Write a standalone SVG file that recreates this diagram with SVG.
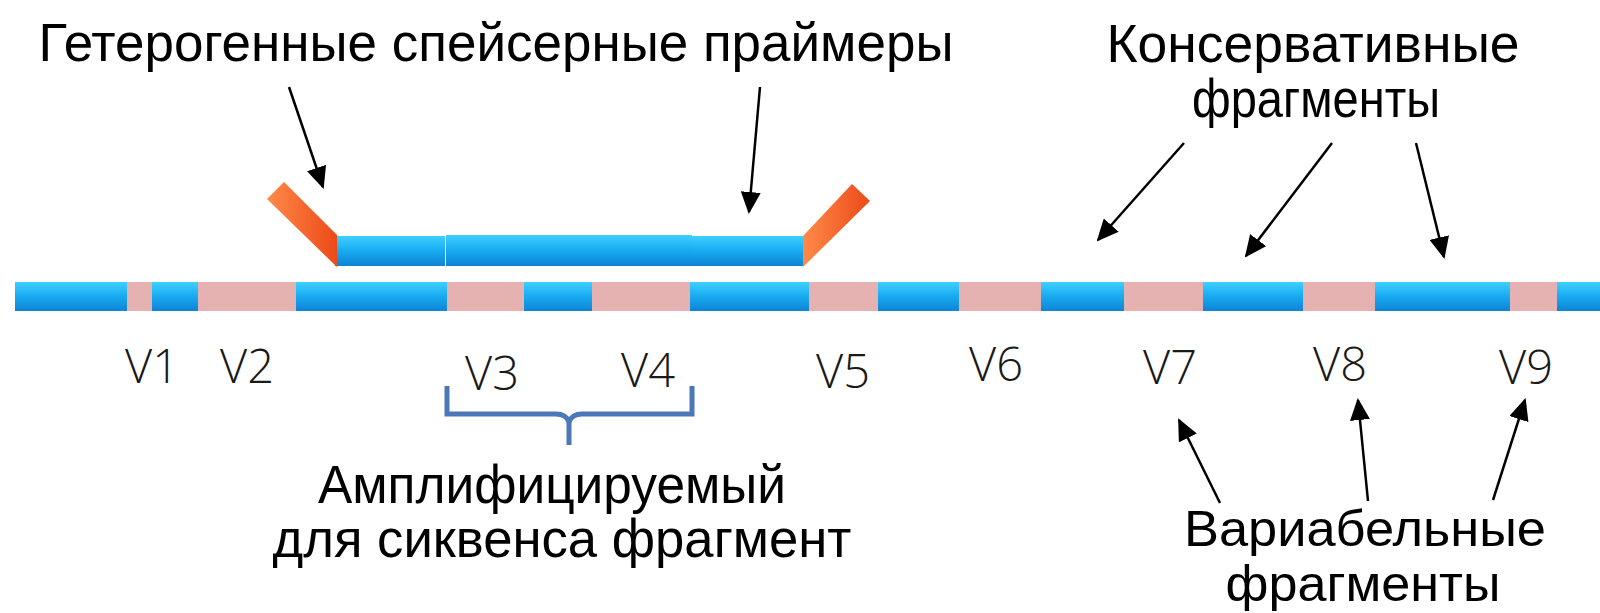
<svg xmlns="http://www.w3.org/2000/svg" width="1600" height="613" viewBox="0 0 1600 613">
<defs>
<linearGradient id="gb" x1="0" y1="0" x2="0" y2="1">
<stop offset="0" stop-color="#3fd0ff"/>
<stop offset="0.5" stop-color="#18aaf0"/>
<stop offset="1" stop-color="#0e84d6"/>
</linearGradient>
<linearGradient id="go" x1="0" y1="0" x2="1" y2="0">
<stop offset="0" stop-color="#ff8a4a"/>
<stop offset="1" stop-color="#ec4a18"/>
</linearGradient>
<marker id="ah" markerUnits="userSpaceOnUse" markerWidth="22" markerHeight="20" refX="20" refY="10" orient="auto">
<path d="M0,0 L22,10 L0,20 z" fill="#000"/>
</marker>
<style>
.b{fill:url(#gb)}
.p{fill:#e6b1b1}
.o{fill:url(#go)}
.t{font-family:"Liberation Sans",Arial,sans-serif;font-size:53px;fill:#000;text-anchor:middle}
.s{font-size:50px}
.v{font-family:"Open Sans","DejaVu Sans",sans-serif;font-weight:300;font-size:47px;fill:#1a1a1a;text-anchor:middle}
.c{stroke:#000;stroke-width:2.5;fill:none;marker-end:url(#ah)}
</style>
</defs>
<rect width="1600" height="613" fill="#fff"/>
<g id="strand">
<rect class="b" x="15" y="282" width="112" height="29"/>
<rect class="p" x="127" y="282" width="25" height="29"/>
<rect class="b" x="152" y="282" width="46" height="29"/>
<rect class="p" x="198" y="282" width="98" height="29"/>
<rect class="b" x="296" y="282" width="151" height="29"/>
<rect class="p" x="447" y="282" width="77" height="29"/>
<rect class="b" x="524" y="282" width="68" height="29"/>
<rect class="p" x="592" y="282" width="98" height="29"/>
<rect class="b" x="690" y="282" width="119" height="29"/>
<rect class="p" x="809" y="282" width="69" height="29"/>
<rect class="b" x="878" y="282" width="81" height="29"/>
<rect class="p" x="959" y="282" width="82" height="29"/>
<rect class="b" x="1041" y="282" width="83" height="29"/>
<rect class="p" x="1124" y="282" width="79" height="29"/>
<rect class="b" x="1203" y="282" width="100" height="29"/>
<rect class="p" x="1303" y="282" width="72" height="29"/>
<rect class="b" x="1375" y="282" width="135" height="29"/>
<rect class="p" x="1510" y="282" width="47" height="29"/>
<rect class="b" x="1557" y="282" width="43" height="29"/>
</g>
<g id="primer">
<rect class="b" x="335" y="236" width="110" height="30"/>
<rect class="b" x="446" y="235" width="246" height="31"/>
<rect class="b" x="692" y="236" width="111" height="30"/>
<polygon class="o" points="284,182 337,235 337,267 267,199"/>
<polygon class="o" points="803,236 852,184 870,201 803,267"/>
</g>
<g id="labels-v">
<text class="v" x="152" y="383">V1</text>
<text class="v" x="247" y="383">V2</text>
<text class="v" x="492" y="390">V3</text>
<text class="v" x="648" y="387">V4</text>
<text class="v" x="843" y="388">V5</text>
<text class="v" x="996" y="381">V6</text>
<text class="v" x="1170" y="384">V7</text>
<text class="v" x="1340" y="381">V8</text>
<text class="v" x="1526" y="384">V9</text>
</g>
<g id="brace">
<path d="M447,386 V414 H556 Q566,414 569,422 Q572,414 582,414 H692 V386 M569,420 V445" fill="none" stroke="#4a78b8" stroke-width="5"/>
</g>
<g id="title-primers">
<text class="t" x="496" y="61" textLength="915" lengthAdjust="spacingAndGlyphs">Гетерогенные спейсерные праймеры</text>
</g>
<g id="title-conserved">
<text class="t" x="1313" y="62" textLength="413" lengthAdjust="spacingAndGlyphs">Консервативные</text>
<text class="t" x="1316" y="117" textLength="248" lengthAdjust="spacingAndGlyphs">фрагменты</text>
</g>
<g id="title-amplified">
<text class="t" x="552" y="503" textLength="468" lengthAdjust="spacingAndGlyphs">Амплифицируемый</text>
<text class="t" x="562" y="557" textLength="579" lengthAdjust="spacingAndGlyphs">для сиквенса фрагмент</text>
</g>
<g id="title-variable">
<text class="t s" x="1365" y="546" textLength="362" lengthAdjust="spacingAndGlyphs">Вариабельные</text>
<text class="t s" x="1363" y="601" textLength="275" lengthAdjust="spacingAndGlyphs">фрагменты</text>
</g>
<g id="connectors">
<line class="c" x1="289" y1="87" x2="323" y2="187"/>
<line class="c" x1="760" y1="87" x2="749" y2="212"/>
<line class="c" x1="1184" y1="143" x2="1098" y2="240"/>
<line class="c" x1="1332" y1="143" x2="1246" y2="256"/>
<line class="c" x1="1416" y1="143" x2="1444" y2="257"/>
<line class="c" x1="1220" y1="503" x2="1179" y2="420"/>
<line class="c" x1="1368" y1="501" x2="1358" y2="400"/>
<line class="c" x1="1493" y1="500" x2="1525" y2="400"/>
</g>
</svg>
